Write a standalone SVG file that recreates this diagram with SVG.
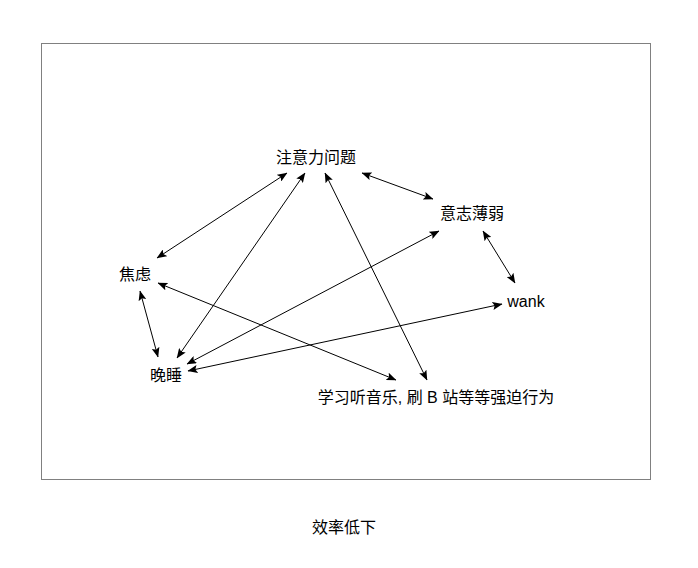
<svg xmlns="http://www.w3.org/2000/svg" width="698" height="568" viewBox="0 0 698 568">
<style>
text{font-family:"Liberation Sans","Noto Sans CJK SC",sans-serif;font-size:16px;fill:#000;text-anchor:middle}
.e line{stroke:#000;stroke-width:1;fill:none;marker-start:url(#ah);marker-end:url(#ah)}
</style>
<defs>
<marker id="ah" viewBox="0 0 10 8" refX="9.5" refY="4" markerWidth="10" markerHeight="8" markerUnits="userSpaceOnUse" orient="auto-start-reverse">
<path d="M0,0 L10,4 L0,8 L2,4 z" fill="#000"/>
</marker>
</defs>
<rect x="41.5" y="43.5" width="609" height="436" fill="#fff" stroke="#808080" stroke-width="1"/>
<g class="e" id="edges">
<line x1="287" y1="173" x2="157" y2="258"/>
<line x1="305" y1="173" x2="177" y2="358"/>
<line x1="325" y1="173" x2="427" y2="380"/>
<line x1="362" y1="173" x2="433" y2="199"/>
<line x1="483" y1="231" x2="515" y2="283"/>
<line x1="140" y1="291" x2="158" y2="357"/>
<line x1="158" y1="283" x2="396" y2="380"/>
<line x1="439" y1="231" x2="187" y2="364"/>
<line x1="502" y1="304" x2="188" y2="371"/>
</g>
<g id="n-attention"><text x="316" y="163">注意力问题</text></g>
<g id="n-will"><text x="472" y="219">意志薄弱</text></g>
<g id="n-anxiety"><text x="135" y="280">焦虑</text></g>
<g id="n-wank"><text x="526" y="307">wank</text></g>
<g id="n-latesleep"><text x="166" y="381">晚睡</text></g>
<g id="n-compulsive"><text x="436" y="403">学习听音乐, 刷 B 站等等强迫行为</text></g>
<g id="n-efficiency"><text x="344" y="533">效率低下</text></g>
</svg>
